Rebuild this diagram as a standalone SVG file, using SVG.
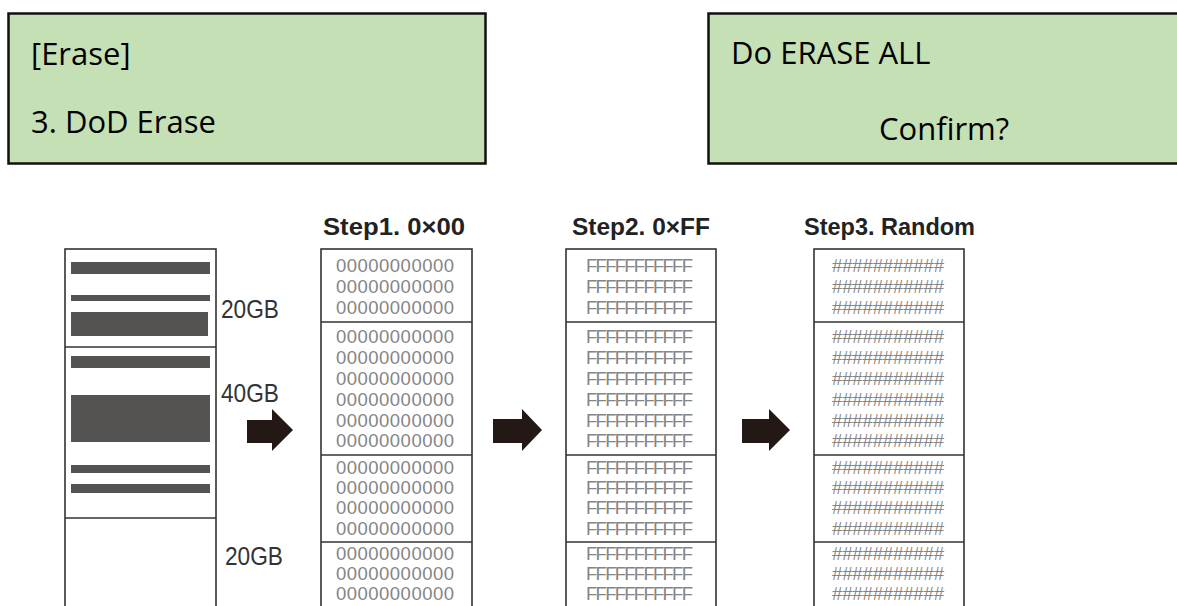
<svg xmlns="http://www.w3.org/2000/svg" width="1177" height="606" viewBox="0 0 1177 606">
<style>
.panel{fill:#C5E0B4;stroke:#111;stroke-width:2.5}
.pt{font-family:"Open Sans","Noto Sans",sans-serif;font-size:31px;fill:#000}
.col{fill:#fff;stroke:#333;stroke-width:1.6}
.div{stroke:#333;stroke-width:1.6}
.bar{fill:#555252}
.gb{font-family:"Liberation Sans",Arial,sans-serif;font-size:26px;fill:#333}
.title{font-family:"Liberation Sans",Arial,sans-serif;font-size:23px;font-weight:bold;fill:#222}
.d{font-family:"Liberation Sans",Arial,sans-serif;font-size:18.5px;fill:#858585}
.arrow{fill:#231815}
</style>
<rect width="1177" height="606" fill="#fff"/>
<g id="panel-erase">
<rect class="panel" x="8.5" y="13.5" width="477" height="150"/>
<text class="pt" x="31" y="65">[Erase]</text>
<text class="pt" x="31" y="133">3. DoD Erase</text>
</g>
<g id="panel-confirm">
<rect class="panel" x="708.5" y="13.5" width="480" height="150"/>
<text class="pt" x="731" y="64">Do ERASE ALL</text>
<text class="pt" x="879" y="140">Confirm?</text>
</g>
<g id="disk">
<rect class="col" x="65" y="249" width="151" height="370"/>
<line class="div" x1="65" y1="347" x2="216" y2="347"/>
<line class="div" x1="65" y1="518" x2="216" y2="518"/>
<rect class="bar" x="71" y="262" width="139" height="12"/>
<rect class="bar" x="71" y="295" width="139" height="6"/>
<rect class="bar" x="71" y="312" width="137" height="24"/>
<rect class="bar" x="71" y="356" width="139" height="12"/>
<rect class="bar" x="71" y="395" width="139" height="47"/>
<rect class="bar" x="71" y="465" width="139" height="8"/>
<rect class="bar" x="71" y="484" width="139" height="9"/>
<text class="gb" x="221" y="318" textLength="58" lengthAdjust="spacingAndGlyphs">20GB</text>
<text class="gb" x="221" y="402" textLength="58" lengthAdjust="spacingAndGlyphs">40GB</text>
<text class="gb" x="225" y="565" textLength="58" lengthAdjust="spacingAndGlyphs">20GB</text>
</g>
<g id="connectors">
<path class="arrow" d="M247,420 H272 V409 L293,430 L272,451 V443 H247 Z"/>
<path class="arrow" d="M493,419 H522 V409 L542,430 L522,451 V443 H493 Z"/>
<path class="arrow" d="M742,419 H769 V409 L790,430 L769,451 V443 H742 Z"/>
</g>
<g id="step1">
<text class="title" x="323" y="235" textLength="142" lengthAdjust="spacingAndGlyphs">Step1. 0×00</text>
<rect class="col" x="321" y="249" width="151" height="370"/>
<line class="div" x1="321" y1="322" x2="472" y2="322"/>
<line class="div" x1="321" y1="455" x2="472" y2="455"/>
<line class="div" x1="321" y1="542" x2="472" y2="542"/>
<g class="d">
<text x="336" y="272" textLength="118">00000000000</text>
<text x="336" y="293" textLength="118">00000000000</text>
<text x="336" y="314" textLength="118">00000000000</text>
<text x="336" y="343" textLength="118">00000000000</text>
<text x="336" y="364" textLength="118">00000000000</text>
<text x="336" y="385" textLength="118">00000000000</text>
<text x="336" y="406" textLength="118">00000000000</text>
<text x="336" y="427" textLength="118">00000000000</text>
<text x="336" y="447" textLength="118">00000000000</text>
<text x="336" y="474" textLength="118">00000000000</text>
<text x="336" y="494" textLength="118">00000000000</text>
<text x="336" y="514" textLength="118">00000000000</text>
<text x="336" y="535" textLength="118">00000000000</text>
<text x="336" y="560" textLength="118">00000000000</text>
<text x="336" y="580" textLength="118">00000000000</text>
<text x="336" y="600" textLength="118">00000000000</text>
</g>
</g>
<g id="step2">
<text class="title" x="572" y="235" textLength="138" lengthAdjust="spacingAndGlyphs">Step2. 0×FF</text>
<rect class="col" x="566" y="249" width="150" height="370"/>
<line class="div" x1="566" y1="322" x2="716" y2="322"/>
<line class="div" x1="566" y1="455" x2="716" y2="455"/>
<line class="div" x1="566" y1="542" x2="716" y2="542"/>
<g class="d">
<text x="586" y="272" textLength="107">FFFFFFFFFFF</text>
<text x="586" y="293" textLength="107">FFFFFFFFFFF</text>
<text x="586" y="314" textLength="107">FFFFFFFFFFF</text>
<text x="586" y="343" textLength="107">FFFFFFFFFFF</text>
<text x="586" y="364" textLength="107">FFFFFFFFFFF</text>
<text x="586" y="385" textLength="107">FFFFFFFFFFF</text>
<text x="586" y="406" textLength="107">FFFFFFFFFFF</text>
<text x="586" y="427" textLength="107">FFFFFFFFFFF</text>
<text x="586" y="447" textLength="107">FFFFFFFFFFF</text>
<text x="586" y="474" textLength="107">FFFFFFFFFFF</text>
<text x="586" y="494" textLength="107">FFFFFFFFFFF</text>
<text x="586" y="514" textLength="107">FFFFFFFFFFF</text>
<text x="586" y="535" textLength="107">FFFFFFFFFFF</text>
<text x="586" y="560" textLength="107">FFFFFFFFFFF</text>
<text x="586" y="580" textLength="107">FFFFFFFFFFF</text>
<text x="586" y="600" textLength="107">FFFFFFFFFFF</text>
</g>
</g>
<g id="step3">
<text class="title" x="804" y="235" textLength="171" lengthAdjust="spacingAndGlyphs">Step3. Random</text>
<rect class="col" x="814" y="249" width="150" height="370"/>
<line class="div" x1="814" y1="322" x2="964" y2="322"/>
<line class="div" x1="814" y1="455" x2="964" y2="455"/>
<line class="div" x1="814" y1="542" x2="964" y2="542"/>
<g class="d">
<text x="832" y="272" textLength="112">###########</text>
<text x="832" y="293" textLength="112">###########</text>
<text x="832" y="314" textLength="112">###########</text>
<text x="832" y="343" textLength="112">###########</text>
<text x="832" y="364" textLength="112">###########</text>
<text x="832" y="385" textLength="112">###########</text>
<text x="832" y="406" textLength="112">###########</text>
<text x="832" y="427" textLength="112">###########</text>
<text x="832" y="447" textLength="112">###########</text>
<text x="832" y="474" textLength="112">###########</text>
<text x="832" y="494" textLength="112">###########</text>
<text x="832" y="514" textLength="112">###########</text>
<text x="832" y="535" textLength="112">###########</text>
<text x="832" y="560" textLength="112">###########</text>
<text x="832" y="580" textLength="112">###########</text>
<text x="832" y="600" textLength="112">###########</text>
</g>
</g>
</svg>
